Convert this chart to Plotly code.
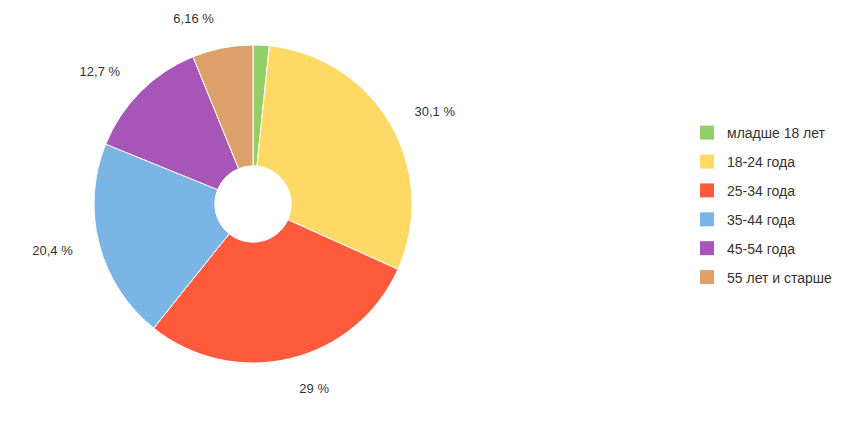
import plotly.graph_objects as go

categories = ["младше 18 лет", "18-24 года", "25-34 года", "35-44 года", "45-54 года", "55 лет и старше"]
values = [1.64, 30.1, 29.0, 20.4, 12.7, 6.16]
value_labels = ["", "30,1 %", "29 %", "20,4 %", "12,7 %", "6,16 %"]
colors = ["#94CE66", "#FFD966", "#FF5A3C", "#7AB5E6", "#A756B8", "#DDA06B"]

# page has an 8px body margin, so figure coords = page coords - 8
W, H = 839, 439
cx, cy, R = 245, 196, 159
Rl = 182  # label ring

def dom(r):
    return dict(x=[max(0, (cx - r) / W), min(1, (cx + r) / W)],
                y=[max(0, 1 - (cy + r) / H), min(1, 1 - (cy - r) / H)])

fig = go.Figure()

# invisible ring that carries the outside labels
fig.add_trace(go.Pie(
    labels=categories, values=values, text=value_labels,
    texttemplate="%{text}", textposition="outside", automargin=False,
    textfont=dict(family="Liberation Sans, Arial", size=13, color="#333333"),
    marker=dict(colors=["rgba(0,0,0,0)"] * len(values), line=dict(width=0)),
    sort=False, direction="clockwise", rotation=0,
    domain=dom(Rl), showlegend=False, hoverinfo="skip",
))

fig.add_trace(go.Pie(
    labels=categories, values=values, hole=0.24,
    textinfo="none", automargin=False,
    marker=dict(colors=colors, line=dict(color="white", width=1)),
    sort=False, direction="clockwise", rotation=0,
    domain=dom(R), showlegend=False,
))

for name, c in zip(categories, colors):
    fig.add_trace(go.Scatter(
        x=[None], y=[None], mode="markers", name=name, legendgroup=name,
        marker=dict(symbol="square", size=14, color=c),
    ))

fig.update_layout(
    width=W, height=H,
    margin=dict(l=0, r=0, t=0, b=0, autoexpand=False),
    paper_bgcolor="white", plot_bgcolor="white",
    xaxis=dict(visible=False), yaxis=dict(visible=False),
    showlegend=True,
    legend=dict(x=679 / W, y=1 - 109 / H, xanchor="left", yanchor="top",
                font=dict(family="Liberation Sans, Arial", size=14, color="#333333"),
                tracegroupgap=7.7, itemclick=False),
    font=dict(family="Liberation Sans, Arial"),
)

fig.write_html("out.html")
